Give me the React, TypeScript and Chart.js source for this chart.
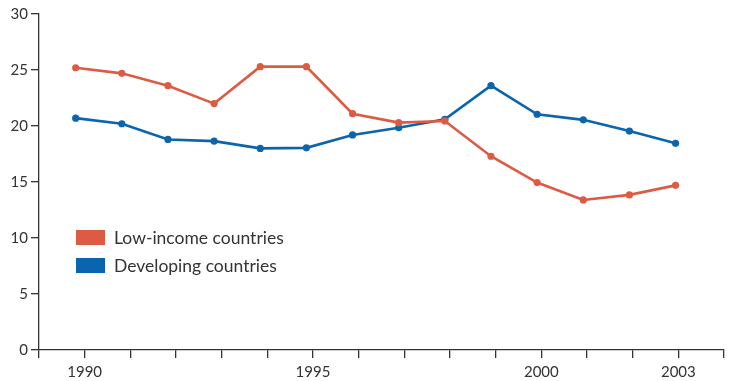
import React, { useEffect, useRef } from "react";
import { Chart, registerables } from "chart.js";

Chart.register(...registerables);

const years = [1990, 1991, 1992, 1993, 1994, 1995, 1996, 1997, 1998, 1999, 2000, 2001, 2002, 2003];
const lowIncome = [25.2, 24.7, 23.6, 22.0, 25.3, 25.3, 21.1, 20.3, 20.45, 17.3, 14.95, 13.4, 13.85, 14.7];
const developing = [20.7, 20.2, 18.8, 18.65, 18.0, 18.05, 19.2, 19.85, 20.6, 23.6, 21.05, 20.55, 19.55, 18.45];
const labeledYears = [1990, 1995, 2000, 2003];
const seriesNames = ["Low-income countries", "Developing countries"];
const RED = "#DE5B43";
const BLUE = "#0A65AE";
const INK = "#333333";
const FONT = "Lato, 'Open Sans', sans-serif";

const legendPlugin = {
  id: "insideLegend",
  afterDraw(chart: any) {
    const { ctx, chartArea } = chart;
    ctx.save();
    chart.data.datasets.forEach((ds: any, i: number) => {
      const x = chartArea.left + 37;
      const y = chartArea.top + 216 + i * 28;
      ctx.fillStyle = ds.borderColor;
      ctx.fillRect(x, y, 29, 15);
      ctx.fillStyle = INK;
      ctx.font = `17.5px ${FONT}`;
      ctx.textBaseline = "middle";
      ctx.textAlign = "left";
      ctx.fillText(ds.label, x + 38, y + 8);
    });
    ctx.restore();
  },
};

export default function App() {
  const ref = useRef<HTMLCanvasElement | null>(null);
  useEffect(() => {
    if (!ref.current) return;
    const chart = new Chart(ref.current, {
      type: "line",
      data: {
        datasets: [
          {
            label: seriesNames[0],
            data: years.map((y, i) => ({ x: y, y: lowIncome[i] })),
            borderColor: RED,
            backgroundColor: RED,
            borderWidth: 2.6,
            pointRadius: 3.6,
            pointBorderWidth: 0,
            xAxisID: "xd",
          },
          {
            label: seriesNames[1],
            data: years.map((y, i) => ({ x: y, y: developing[i] })),
            borderColor: BLUE,
            backgroundColor: BLUE,
            borderWidth: 2.6,
            pointRadius: 3.6,
            pointBorderWidth: 0,
            xAxisID: "xd",
          },
        ],
      },
      options: {
        responsive: false,
        animation: false,
        layout: { padding: { left: 0, right: 9, top: 14, bottom: 0 } },
        plugins: { legend: { display: false }, tooltip: { enabled: false } },
        scales: {
          xd: {
            type: "linear",
            display: false,
            min: 1989.205,
            max: 2004.05,
          },
          x: {
            type: "linear",
            position: "bottom",
            min: 1989,
            max: 2004,
            afterFit(s: any) { s.height = 31; },
            afterBuildTicks(s: any) {
              const t = [];
              for (let v = 1989; v <= 2004; v++) t.push({ value: v });
              s.ticks = t;
            },
            border: { display: true, color: INK, width: 1.3 },
            grid: { drawOnChartArea: false, drawTicks: true, tickLength: 8, color: INK, lineWidth: 1.3 },
            ticks: {
              autoSkip: false,
              maxRotation: 0,
              padding: 5,
              color: INK,
              font: { family: FONT, size: 15 },
              callback: (v: any) => (labeledYears.includes(Number(v)) ? String(v) : ""),
            },
          },
          y: {
            type: "linear",
            min: 0,
            max: 30,
            afterFit(s: any) { s.width = 39; },
            border: { display: true, color: INK, width: 1.3 },
            grid: { drawOnChartArea: false, drawTicks: true, tickLength: 8, color: INK, lineWidth: 1.3 },
            ticks: {
              stepSize: 5,
              padding: 3,
              color: INK,
              font: { family: FONT, size: 15 },
            },
          },
        },
      },
      plugins: [legendPlugin],
    });
    return () => chart.destroy();
  }, []);
  return (
    <div style={{ position: "absolute", left: 0, top: 0, width: 733, height: 381, background: "#fff" }}>
      <canvas ref={ref} width={733} height={381} style={{ width: 733, height: 381 }} />
    </div>
  );
}
